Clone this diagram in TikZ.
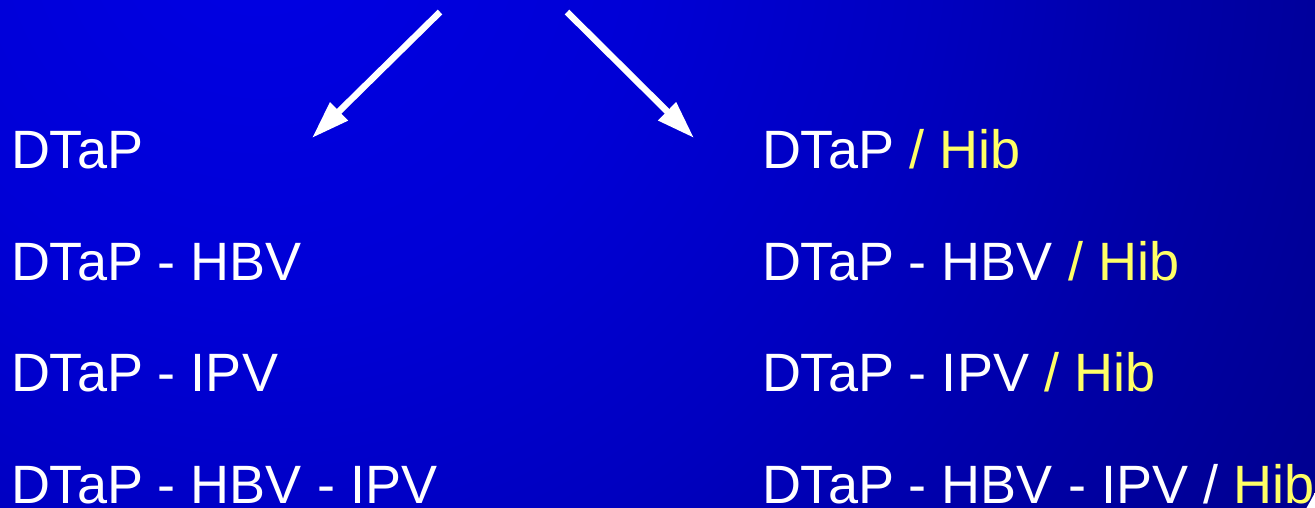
\documentclass[tikz,border=0pt]{standalone}
\usepackage{fontspec}
\setmainfont{Liberation Sans}
\usetikzlibrary{arrows.meta}
\definecolor{hibyellow}{RGB}{255,255,102}
\definecolor{bgA}{RGB}{0,0,228}
\definecolor{bgB}{RGB}{0,0,214}
\definecolor{bgC}{RGB}{0,0,192}
\definecolor{bgD}{RGB}{0,0,164}
\definecolor{bgE}{RGB}{0,0,136}
\definecolor{bgF}{RGB}{0,0,100}
\definecolor{bgG}{RGB}{0,0,76}
\pgfdeclareradialshading{bgshade}{\pgfpoint{0bp}{0bp}}{color(0bp)=(bgA); color(8bp)=(bgB); color(14bp)=(bgC); color(20bp)=(bgD); color(27bp)=(bgE); color(38bp)=(bgF); color(50bp)=(bgG)}
\tikzset{
  item/.style={anchor=base west, inner sep=0pt, outer sep=0pt, text=white, font=\fontsize{54}{60}\selectfont},
  bigarrow/.style={draw=white, line width=6.5pt, -{Triangle[length=38pt,width=24pt]}}
}
\begin{document}
\begin{tikzpicture}[x=1pt,y=-1pt]
\useasboundingbox (0,0) rectangle (1315,507);
\begin{scope}
  \clip (0,0) rectangle (1315,507);
  \shade[shading=bgshade] (260,-80) circle (1200);
\end{scope}
% arrows
\coordinate (ls) at (440,12);
\coordinate (le) at (312,138);
\coordinate (rs) at (567,12);
\coordinate (re) at (694,138);
\draw[bigarrow] (ls) -- (le);
\draw[bigarrow] (rs) -- (re);
% left column
\node[item] (l1) at (11,168) {DTaP};
\node[item] (l2) at (11,280) {DTaP - HBV};
\node[item] (l3) at (11,391.5) {DTaP - IPV};
\node[item] (l4) at (11,503) {DTaP - HBV - IPV};
% right column
\node[item] (r1) at (762,168) {DTaP \textcolor{hibyellow}{/ Hib}};
\node[item] (r2) at (762,280) {DTaP - HBV \textcolor{hibyellow}{/ Hib}};
\node[item] (r3) at (762,391.5) {DTaP - IPV \textcolor{hibyellow}{/ Hib}};
\node[item] (r4) at (762,503) {DTaP - HBV - IPV / \textcolor{hibyellow}{Hib}};
\end{tikzpicture}
\end{document}
